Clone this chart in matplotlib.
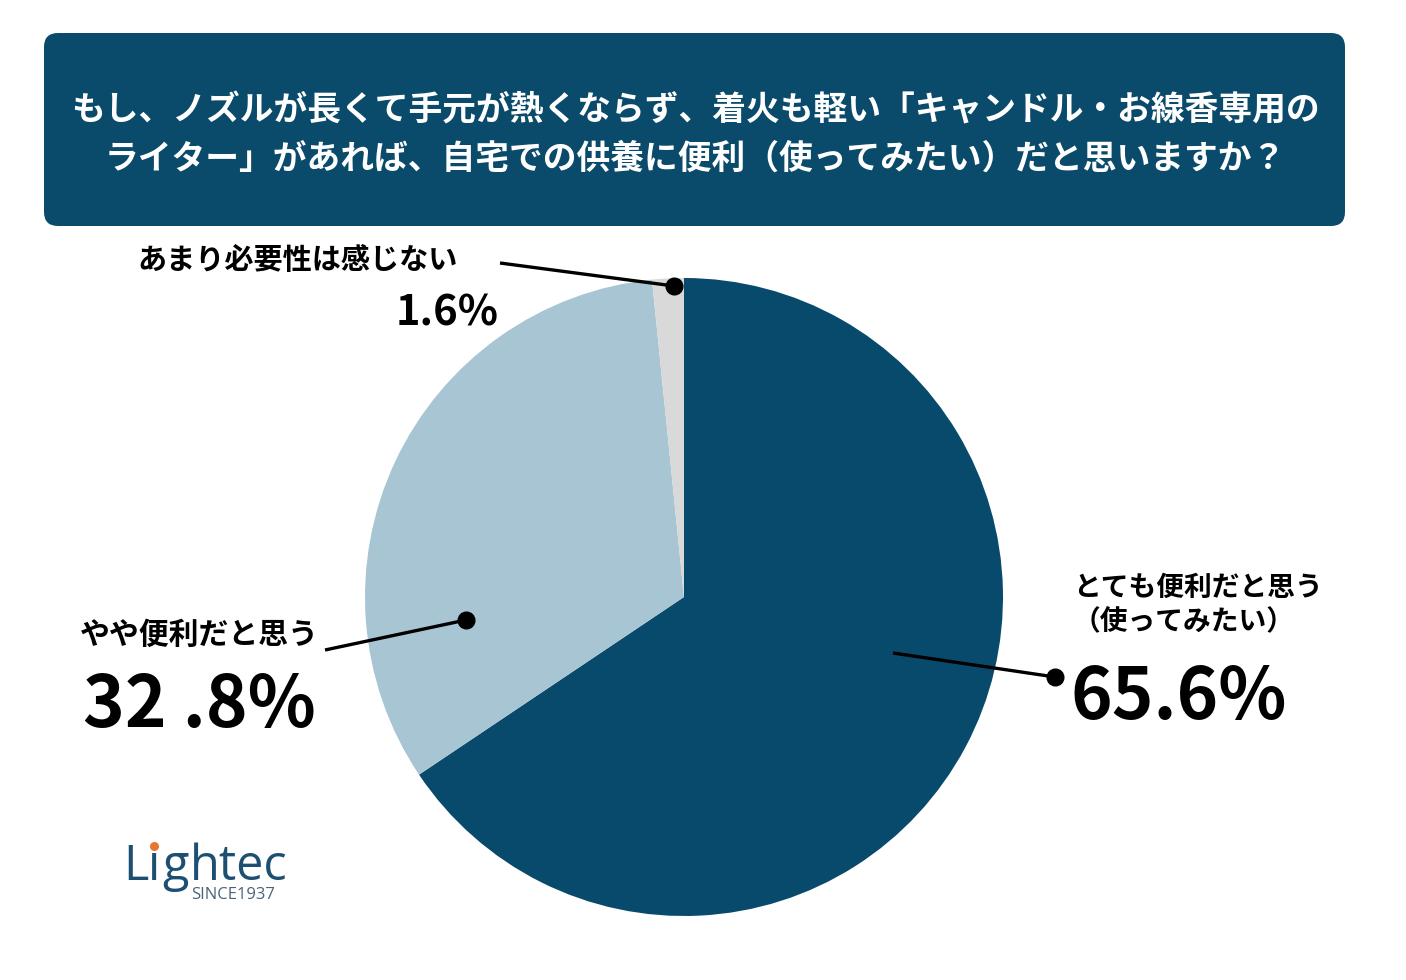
import matplotlib.pyplot as plt
from matplotlib.patches import FancyBboxPatch

plt.rcParams['font.family'] = ['Noto Sans CJK JP', 'DejaVu Sans']

# data
labels = ["とても便利だと思う\n（使ってみたい）", "やや便利だと思う", "あまり必要性は感じない"]
values = [65.6, 32.8, 1.6]
value_labels = ["65.6%", "32 .8%", "1.6%"]
colors = ["#084A6C", "#A8C5D4", "#D9D9D9"]
title = ("もし、ノズルが長くて手元が熱くならず、着火も軽い「キャンドル・お線香専用の\n"
         "ライター」があれば、自宅での供養に便利（使ってみたい）だと思いますか？")

W, H = 1406, 980


def py(y):
    # pixel row (from top) to data y
    return H - y


fig = plt.figure(figsize=(W / 100, H / 100), dpi=100)
ax = fig.add_axes([0, 0, 1, 1])

ax.pie(values, colors=colors, startangle=90, counterclock=False,
       center=(684, py(597)), radius=319,
       wedgeprops=dict(linewidth=0))

ax.set_xlim(0, W)
ax.set_ylim(0, H)
ax.set_aspect('equal')
ax.axis('off')

# title box
box = FancyBboxPatch((44, py(226)), 1301, 193,
                     boxstyle="round,pad=0,rounding_size=14",
                     facecolor="#0A4A6B", edgecolor="none")
ax.add_patch(box)
ax.text(695, py(134), title, color="white", fontsize=24.3, fontweight="bold",
        ha="center", va="center", linespacing=1.5)

# connectors: (line start, dot)
conns = [((893, 653), (1055, 677)),
         ((325, 650), (466, 620)),
         ((500, 263), (674, 286))]
for (x0, y0), (x1, y1) in conns:
    ax.plot([x0, x1], [py(y0), py(y1)], color="black", lw=2.4,
            solid_capstyle="butt")
    ax.plot([x1], [py(y1)], "o", color="black", ms=12)

# category labels
ax.text(1073, py(605), labels[0], fontsize=20, fontweight="bold",
        ha="left", va="center", linespacing=1.3)
ax.text(80, py(635), labels[1], fontsize=21.5, fontweight="bold",
        ha="left", va="center")
ax.text(137, py(260), labels[2], fontsize=21, fontweight="bold",
        ha="left", va="center")

# percentages
ax.text(1071, py(698), value_labels[0], fontsize=51, fontweight="bold",
        ha="left", va="center")
ax.text(83, py(706), value_labels[1], fontsize=51, fontweight="bold",
        ha="left", va="center")
ax.text(396, py(313), value_labels[2], fontsize=30, fontweight="bold",
        ha="left", va="center")

# logo
logo_blue = "#1D4F73"
lfont = ['Open Sans', 'DejaVu Sans']
ax.text(123, py(880), "L", fontsize=35, color=logo_blue, family=lfont,
        ha="left", va="baseline")
ax.text(148, py(880), "ı", fontsize=35, color=logo_blue, family=lfont,
        ha="left", va="baseline")
ax.plot([154], [py(846)], marker="o", color="#E8772E", ms=5.5)
ax.text(162, py(880), "g", fontsize=35, color=logo_blue, family=lfont,
        ha="left", va="baseline")
ax.text(190, py(880), "htec", fontsize=35, color=logo_blue, family=lfont,
        ha="left", va="baseline")
ax.text(191, py(899), "SINCE1937", fontsize=12, color="#4A6378", family=lfont,
        ha="left", va="baseline")

fig.savefig("out.png", dpi=100)
